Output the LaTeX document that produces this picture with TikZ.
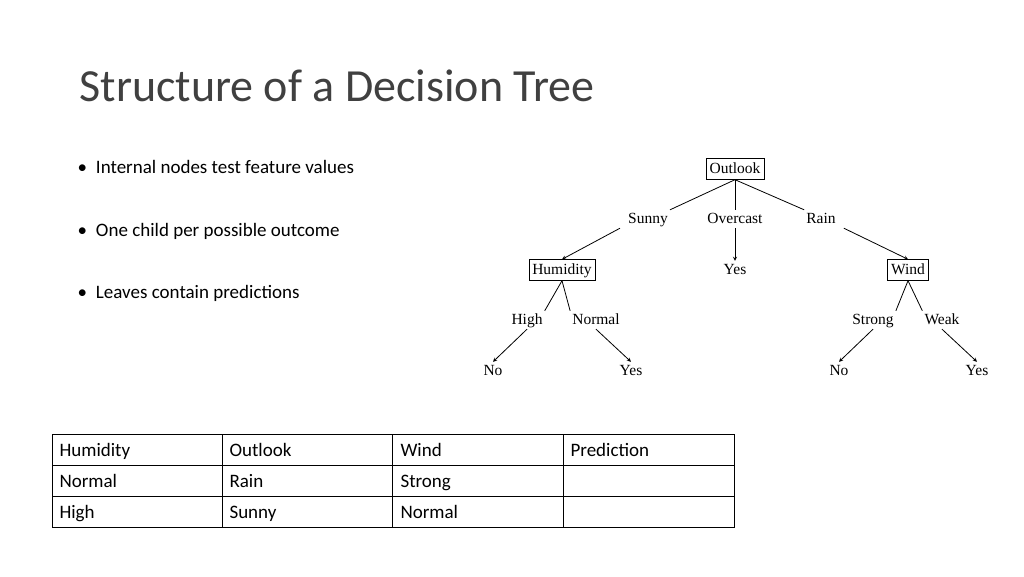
\documentclass[tikz,border=0pt]{standalone}
\usepackage{fontspec}
\setmainfont{Carlito}
\newfontfamily\treefont{Liberation Serif}
\usetikzlibrary{positioning}

\begin{document}
\begin{tikzpicture}[x=1pt, y=-1pt, >=stealth]
	% Define styles
	\tikzset{
		testbox/.style={draw, rectangle, inner sep=3.5pt, text height=11pt, text depth=3pt, font=\treefont\fontsize{15.5}{18}\selectfont},
		branch/.style={inner sep=2pt, text height=11pt, text depth=3pt, font=\treefont\fontsize{15.5}{18}\selectfont},
		bullet/.style={anchor=base west, font=\fontsize{19}{22}\selectfont},
		cell/.style={anchor=base west, font=\fontsize{19}{22}\selectfont}
	}
	\useasboundingbox (0,0) rectangle (1024,576);
	
	% Title
	\node[anchor=base west, font=\fontsize{46}{54}\selectfont, text=black!75] (title) at (76,101) {Structure of a Decision Tree};
	
	% Bullets
	\node[bullet] (b1) at (74,173) {\textbullet\hspace{9pt}Internal nodes test feature values};
	\node[bullet] (b2) at (74,236) {\textbullet\hspace{9pt}One child per possible outcome};
	\node[bullet] (b3) at (74,298) {\textbullet\hspace{9pt}Leaves contain predictions};
	
	% Tree nodes
	\node[testbox] (outlook) at (735,169) {Outlook};
	\node[branch] (sunny) at (648,219) {Sunny};
	\node[branch] (overcast) at (735,219) {Overcast};
	\node[branch] (rain) at (821,219) {Rain};
	\node[testbox] (humidity) at (562,270) {Humidity};
	\node[branch] (yesO) at (735,270) {Yes};
	\node[testbox] (wind) at (908,270) {Wind};
	\node[branch] (high) at (527,320) {High};
	\node[branch] (normal) at (596,320) {Normal};
	\node[branch] (strong) at (873,320) {Strong};
	\node[branch] (weak) at (942,320) {Weak};
	\node[branch] (noH) at (493,371) {No};
	\node[branch] (yesH) at (631,371) {Yes};
	\node[branch] (noW) at (839,371) {No};
	\node[branch] (yesW) at (977,371) {Yes};
	
	% Branch lines
	\begin{scope}[line width=0.8pt]
	\draw (outlook.south) -- (sunny.north east);
	\draw (outlook.south) -- (overcast.north);
	\draw (outlook.south) -- (rain.north west);
	\draw (humidity.south) -- (high.north east);
	\draw (humidity.south) -- (normal.north west);
	\draw (wind.south) -- (strong.north east);
	\draw (wind.south) -- (weak.north west);
	
	% Arrows to children
	\draw[->] (sunny.south west) ++(-6,0) coordinate (s0) (s0) -- (humidity.north);
	\draw[->] (overcast.south) -- (yesO.north);
	\draw[->] (rain.south east) ++(6,0) coordinate (r0) (r0) -- (wind.north);
	\draw[->] (high.south) -- (noH.north);
	\draw[->] (normal.south) -- (yesH.north);
	\draw[->] (strong.south) -- (noW.north);
	\draw[->] (weak.south) -- (yesW.north);
	\end{scope}
	
	% Table
	\draw (52,434) rectangle (734,527);
	\draw (52,465) -- (734,465);
	\draw (52,496) -- (734,496);
	\foreach \x in {222,392,563} \draw (\x,434) -- (\x,527);
	\node[cell] (h1) at (56,456) {Humidity};
	\node[cell] (h2) at (226,456) {Outlook};
	\node[cell] (h3) at (397,456) {Wind};
	\node[cell] (h4) at (567,456) {Prediction};
	\node[cell] (r11) at (56,487) {Normal};
	\node[cell] (r12) at (226,487) {Rain};
	\node[cell] (r13) at (397,487) {Strong};
	\node[cell] (r21) at (56,518) {High};
	\node[cell] (r22) at (226,518) {Sunny};
	\node[cell] (r23) at (397,518) {Normal};
\end{tikzpicture}
\end{document}
